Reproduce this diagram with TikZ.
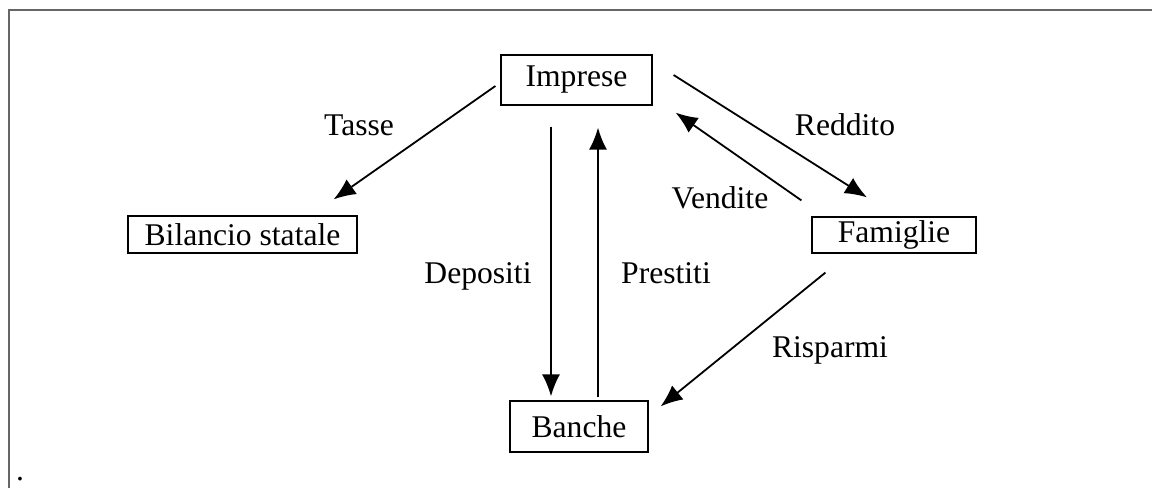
\documentclass[tikz,border=0pt]{standalone}
\usepackage{fontspec}
\setmainfont{Liberation Serif}
\usepackage{tikz}
\usetikzlibrary{arrows.meta}

\begin{document}
\begin{tikzpicture}[x=0.5pt,y=-0.5pt,
     every node/.style={font=\fontsize{15.8pt}{18pt}\selectfont,inner sep=0pt},
     box/.style={draw,line width=0.6pt},
     flow/.style={line width=0.9pt,-{Latex[length=11pt,width=9pt]}}]
     \useasboundingbox (0,0) rectangle (1152,488);
     \draw[color=black!60,line width=1pt] (8.5,488) -- (8.5,9.5) -- (1152,9.5);
     \node (dot) at (20,479) {.};
     \node[box,minimum width=75.5pt,minimum height=25pt] (imp) at (576.5,80) {Imprese};
     \node[box,minimum width=114.5pt,minimum height=18.5pt] (bil) at (242.5,234.5) {Bilancio statale};
     \node[box,minimum width=82pt,minimum height=18pt] (fam) at (894,235) {Famiglie};
     \node[box,minimum width=69pt,minimum height=25.5pt] (ban) at (579,426.5) {Banche};
     \draw[flow] ([shift={(-5,6)}]imp.west) -- ([shift={(-24,-16)}]bil.north east);
     \draw[flow] ([shift={(21,-5)}]imp.east) -- ([shift={(-27,-19)}]fam.north);
     \draw[flow] ([shift={(-10,-16)}]fam.north west) -- ([shift={(23,7)}]imp.south east);
     \draw[flow] ([shift={(-25.5,21)}]imp.south) -- ([shift={(-28,-4)}]ban.north);
     \draw[flow] ([shift={(19,-3)}]ban.north) -- ([shift={(21.5,22)}]imp.south);
     \draw[flow] ([shift={(14,19)}]fam.south west) -- ([shift={(12,6)}]ban.north east);
     \node[anchor=base] (tasse) at (359,135) {Tasse};
     \node[anchor=base] (reddito) at (845,135) {Reddito};
     \node[anchor=base] (vendite) at (720,208) {Vendite};
     \node[anchor=base] (depositi) at (478,283) {Depositi};
     \node[anchor=base] (prestiti) at (666,283) {Prestiti};
     \node[anchor=base] (risparmi) at (830,357) {Risparmi};
\end{tikzpicture}
\end{document}
